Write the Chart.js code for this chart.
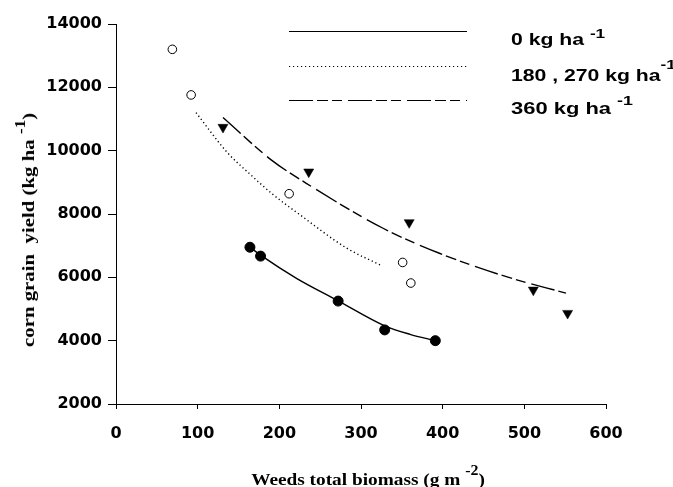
<!DOCTYPE html>
<html>
<head>
<meta charset="utf-8">
<script src="https://cdn.jsdelivr.net/npm/chart.js@4.4.1/dist/chart.umd.min.js"></script>
<style>
	html, body { margin: 0; padding: 0; background: #fff; }
	#wrap { position: relative; width: 673px; height: 487px; overflow: hidden; }
	#chart { position: absolute; left: 0; top: 0; }
	.lab { position: absolute; white-space: nowrap; line-height: 16px; color: #000; }
	.leg { font: bold 16px "Liberation Sans", Arial, sans-serif; transform-origin: 0 0; }
	.ttl { font: bold 17px "Liberation Serif", "Times New Roman", serif; line-height: 17px; }
	.sup { position: relative; font-size: 13px; }
</style>
</head>
<body>
<div id="wrap">
	<canvas id="chart" width="673" height="487"></canvas>
	<div class="lab leg" id="leg0" style="left:511px;top:31px">0 kg ha <span class="sup" style="top:-7px">-1</span></div>
	<div class="lab leg" id="leg1" style="left:511px;top:67px">180 , 270 kg ha<span class="sup" style="top:-12px">-1</span></div>
	<div class="lab leg" id="leg2" style="left:511px;top:100px">360 kg ha <span class="sup" style="top:-9px">-1</span></div>
	<div class="lab ttl" id="xTitle" style="left:368px;top:480px">Weeds total biomass (g m <span class="sup" style="top:-10px;font-size:14px">-2</span>)</div>
	<div class="lab ttl" id="yTitle" style="left:29px;top:230px">corn grain&nbsp; yield (kg ha <span class="sup" style="top:-9px;font-size:14px">-1</span>)</div>
</div>
<script>
// 0 kg N ha-1 (filled circles)
var weeds0 = [164, 177, 272, 329, 391];
var yield0 = [6950, 6670, 5250, 4340, 4000];
// 180, 270 kg N ha-1 (open circles)
var weeds180 = [69, 92, 212, 351, 361];
var yield180 = [13200, 11760, 8640, 6470, 5820];
// 360 kg N ha-1 (triangles)
var weeds360 = [131, 236, 359, 511, 553];
var yield360 = [10740, 9330, 7730, 5600, 4865];

// fitted curves
var fitX0 = [164, 177, 221, 272, 329, 360, 391];
var fitY0 = [6950, 6700, 5970, 5260, 4470, 4200, 4000];
var fitX180 = [98, 136, 164, 192, 225, 282, 326];
var fitY180 = [11200, 9950, 9260, 8620, 7980, 6930, 6360];
var fitX360 = [131, 190, 233, 327, 396, 478, 551];
var fitY360 = [11050, 9710, 8970, 7550, 6760, 6020, 5500];

var xTicks = [0, 100, 200, 300, 400, 500, 600];
var yTicks = [2000, 4000, 6000, 8000, 10000, 12000, 14000];

var dotDash = [1.2, 2.8];
var longDash = [24, 4, 11, 4, 10, 6];

function toPoints(xs, ys) {
	var pts = [];
	for (var i = 0; i < xs.length; i++) {
		pts.push({x: xs[i], y: ys[i]});
	}
	return pts;
}

function curve(xs, ys, dash) {
	return {
		data: toPoints(xs, ys),
		showLine: true,
		borderColor: "#000",
		borderWidth: 1.4,
		borderDash: dash,
		pointRadius: 0,
		cubicInterpolationMode: "monotone",
		order: 2
	};
}

var legendLines = {
	id: "legendLines",
	afterDraw: function(chart) {
		var ctx = chart.ctx;
		var rows = [[31.5, []], [66.5, dotDash], [100.5, longDash]];
		ctx.save();
		ctx.strokeStyle = "#000";
		ctx.lineWidth = 1;
		rows.forEach(function(r) {
			ctx.setLineDash(r[1]);
			ctx.beginPath();
			ctx.moveTo(289, r[0]);
			ctx.lineTo(467, r[0]);
			ctx.stroke();
		});
		ctx.restore();
	}
};

var tickFont = {family: "'DejaVu Sans', sans-serif", size: 16, weight: "bold"};
function plain(v) { return String(v); }

new Chart(document.getElementById("chart"), {
	type: "scatter",
	data: {
		datasets: [
			curve(fitX0, fitY0, []),
			curve(fitX180, fitY180, dotDash),
			curve(fitX360, fitY360, longDash),
			{
				data: toPoints(weeds0, yield0),
				pointStyle: "circle",
				pointRadius: 5,
				backgroundColor: "#000",
				borderColor: "#000",
				borderWidth: 1,
				order: 1
			},
			{
				data: toPoints(weeds180, yield180),
				pointStyle: "circle",
				pointRadius: 4.3,
				backgroundColor: "#fff",
				borderColor: "#000",
				borderWidth: 1,
				order: 1
			},
			{
				data: toPoints(weeds360, yield360),
				pointStyle: "triangle",
				rotation: 180,
				pointRadius: 5.8,
				backgroundColor: "#000",
				borderColor: "#000",
				borderWidth: 0.5,
				order: 1
			}
		]
	},
	options: {
		responsive: false,
		animation: false,
		devicePixelRatio: 1,
		layout: {padding: {left: 0, top: 24, right: 67, bottom: 0}},
		plugins: {legend: {display: false}, tooltip: {enabled: false}},
		scales: {
			x: {
				type: "linear",
				min: 0,
				max: 600,
				afterBuildTicks: function(scale) {
					scale.ticks = xTicks.map(function(v) { return {value: v}; });
				},
				afterFit: function(scale) { scale.height = 83; },
				ticks: {color: "#000", font: tickFont, padding: 15, maxRotation: 0, callback: plain},
				grid: {drawOnChartArea: false, tickLength: 5, color: "#000", tickWidth: 1},
				border: {color: "#000", width: 1}
			},
			y: {
				type: "linear",
				min: 2000,
				max: 14000,
				afterBuildTicks: function(scale) {
					scale.ticks = yTicks.map(function(v) { return {value: v}; });
				},
				afterFit: function(scale) { scale.width = 116; },
				ticks: {color: "#000", font: tickFont, padding: 6, callback: plain},
				grid: {drawOnChartArea: false, tickLength: 8, color: "#000", tickWidth: 1},
				border: {color: "#000", width: 1}
			}
		}
	},
	plugins: [legendLines]
});

// stretch labels to the widths seen in the original
function fit(id, width, rotate) {
	var el = document.getElementById(id);
	var s = width / el.offsetWidth;
	if (rotate) {
		el.style.transform = "translate(-50%,-50%) rotate(-90deg) scaleX(" + s + ")";
	} else if (el.classList.contains("ttl")) {
		el.style.transform = "translate(-50%,-50%) scaleX(" + s + ")";
	} else {
		el.style.transform = "scaleX(" + s + ")";
	}
}
fit("leg0", 94);
fit("leg1", 94 * document.getElementById("leg1").offsetWidth / document.getElementById("leg0").offsetWidth);
fit("leg2", 122);
fit("xTitle", 234);
fit("yTitle", 234, true);
</script>
</body>
</html>
